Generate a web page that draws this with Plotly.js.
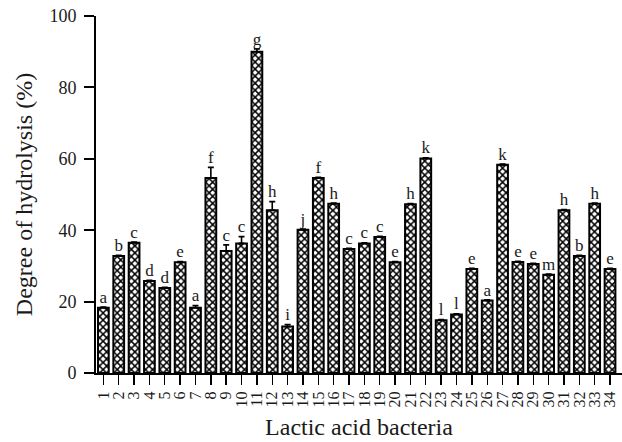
<!DOCTYPE html>
<html>
<head>
<meta charset="utf-8">
<script src="https://cdn.plot.ly/plotly-3.0.1.min.js"></script>
<style>html,body{margin:0;padding:0;background:#fff;}#chart{width:622px;height:442px;}</style>
</head>
<body>
<div id="chart"></div>
<script>
const strains = ["1","2","3","4","5","6","7","8","9","10","11","12","13","14","15","16","17","18","19","20","21","22","23","24","25","26","27","28","29","30","31","32","33","34"];
const hydrolysis = [18.3,32.8,36.5,25.8,23.8,31.0,18.3,54.6,34.2,36.3,90.0,45.6,13.0,40.1,54.6,47.4,34.7,36.3,38.1,31.0,47.3,60.1,14.8,16.4,29.1,20.3,58.3,31.1,30.5,27.5,45.6,32.8,47.4,29.1];
const errors = [0.2,0.2,0.2,0.2,0.2,0.2,0.6,3.0,1.7,1.9,0.8,2.4,0.6,0.2,0.2,0.2,0.2,0.2,0.2,0.2,0.2,0.2,0.2,0.2,0.2,0.2,0.2,0.2,0.2,0.2,0.2,0.2,0.2,0.2];
const groups = ["a","b","c","d","d","e","a","f","c","c","g","h","i","j","f","h","c","c","c","e","h","k","l","l","e","a","k","e","e","m","h","b","h","e"];

const xs = strains.map((s, i) => i + 1);
const serif = "Liberation Serif, Times New Roman, serif";
const ink = "#1a1a1a";

const bars = {
  type: "bar",
  x: xs,
  y: hydrolysis,
  width: 0.7,
  marker: {
    color: "#ffffff",
    line: {color: "#000000", width: 2},
    pattern: {shape: "x", size: 5, solidity: 0.5, fgcolor: "#000000", bgcolor: "#ffffff"}
  },
  error_y: {
    type: "data",
    array: errors,
    arrayminus: errors.map(() => 0),
    color: "#000000",
    thickness: 1.6,
    width: 3,
    visible: true
  },
  hoverinfo: "skip",
  showlegend: false
};

const letters = {
  type: "scatter",
  mode: "text",
  x: xs,
  y: hydrolysis.map((v, i) => v + errors[i]),
  text: groups,
  textposition: "top center",
  textfont: {family: serif, size: 17, color: ink},
  hoverinfo: "skip",
  showlegend: false,
  cliponaxis: false
};

const layout = {
  width: 622,
  height: 442,
  margin: {l: 96, r: 0, t: 16, b: 69},
  paper_bgcolor: "#ffffff",
  plot_bgcolor: "#ffffff",
  font: {family: serif, color: ink},
  showlegend: false,
  xaxis: {
    range: [0.52, 34.78],
    tickmode: "array",
    tickvals: xs,
    ticktext: strains,
    tickangle: -90,
    ticks: "outside",
    ticklen: 10,
    tickwidth: 1.4,
    tickcolor: "#000000",
    showline: true,
    linecolor: "#000000",
    linewidth: 2,
    showgrid: false,
    zeroline: false,
    tickfont: {family: serif, size: 16, color: ink},
    title: {text: "Lactic acid bacteria", font: {family: serif, size: 24, color: ink}, standoff: 12},
    fixedrange: true
  },
  yaxis: {
    range: [0, 100],
    tickvals: [0, 20, 40, 60, 80, 100],
    ticks: "outside",
    ticklen: 10,
    tickwidth: 2,
    tickcolor: "#000000",
    ticklabelstandoff: 4,
    showline: true,
    linecolor: "#000000",
    linewidth: 2,
    showgrid: false,
    zeroline: false,
    tickfont: {family: serif, size: 18, color: ink},
    title: {text: "Degree of hydrolysis (%)", font: {family: serif, size: 24, color: ink}, standoff: 10},
    fixedrange: true
  }
};

Plotly.newPlot("chart", [bars, letters], layout, {staticPlot: true, displayModeBar: false});
</script>
</body>
</html>
